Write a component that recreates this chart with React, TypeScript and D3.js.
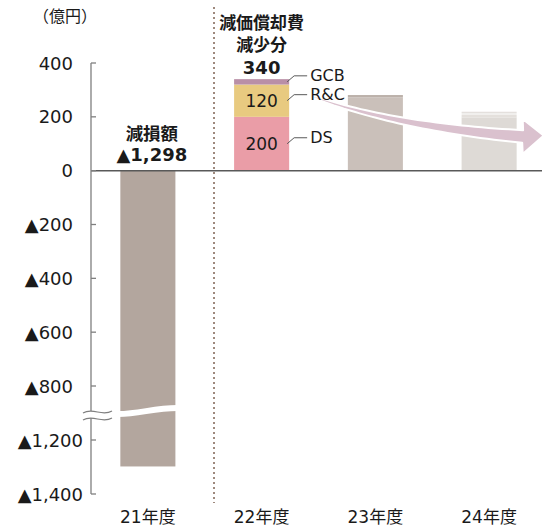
import React from "react";
import * as d3 from "d3";

// ---- data ----
const categories = ["21年度", "22年度", "23年度", "24年度"];
const impairmentValue = -1298; // 減損額
const segmentNames = ["DS", "R&C", "GCB"];
const segmentValues = [200, 120, 20];
const segmentColors = ["#EA9DA7", "#E8CA80", "#B98FA7"];
const fade23Values = [272, 9];
const fade23Colors = ["#CAC0BA", "#BCB1AA"];
const fade24Values = [198, 9, 7, 5];
const fade24Colors = ["#DEDAD6", "#E4E0DC", "#F1EFED", "#E4E0DD"];
const yTicks = [400, 200, 0, -200, -400, -600, -800, -1200, -1400];
const breakValue = -1000;
const arrowFrom = { cat: "22年度", value: 305 };
const arrowTo = { cat: "24年度", value: 127 };

const W = 542;
const H = 531;
const FONT = "'DejaVu Sans', Verdana, 'Noto Sans CJK JP', sans-serif";
const CJK = "'Noto Sans CJK JP', sans-serif";
const TXT = "#1a1a1a";

export default function App() {
  const x = d3.scalePoint<string>().domain(categories).range([91, 546]).padding(0.5);
  const step = x.step();
  const barW = step * 0.484;
  const y = d3
    .scaleLinear()
    .domain([400, -800, -1200, -1400])
    .range([63, 386, 440, 494]);
  const y0 = y(0);

  const fmt = (v: number) => (v < 0 ? "▲" + d3.format(",")(-v) : d3.format(",")(v));

  const stack = (cat: string, vals: number[], colors: string[]) => {
    const cum = d3.cumsum(vals);
    return vals.map((v, i) => {
      const top = cum[i];
      const bot = top - v;
      return (
        <rect
          key={cat + i}
          x={x(cat)! - barW / 2}
          y={y(top)}
          width={barW}
          height={y(bot) - y(top)}
          fill={colors[i]}
        />
      );
    });
  };

  const cum22 = Array.from(d3.cumsum(segmentValues));
  const total22 = d3.sum(segmentValues);
  const c22 = x("22年度")!;
  const c21 = x("21年度")!;

  // arrow geometry
  const sx = x(arrowFrom.cat)! + barW / 2 + 3;
  const sy = y(arrowFrom.value);
  const ex = x(arrowTo.cat)! + barW / 2 + 6;
  const ey = y(arrowTo.value);
  const cx = sx + 0.38 * (ex - sx);
  const cy = ey - 0.23 * (ey - sy);
  const N = 40;
  const upper: [number, number][] = [];
  const lower: [number, number][] = [];
  for (let i = 0; i <= N; i++) {
    const t = i / N;
    const px = (1 - t) * (1 - t) * sx + 2 * t * (1 - t) * cx + t * t * ex;
    const py = (1 - t) * (1 - t) * sy + 2 * t * (1 - t) * cy + t * t * ey;
    const dx = 2 * (1 - t) * (cx - sx) + 2 * t * (ex - cx);
    const dy = 2 * (1 - t) * (cy - sy) + 2 * t * (ey - cy);
    const len = Math.hypot(dx, dy);
    const nx = -dy / len;
    const ny = dx / len;
    const w = 1.2 + 11.5 * Math.pow(t, 1.2);
    upper.push([px - (nx * w) / 2, py - (ny * w) / 2]);
    lower.push([px + (nx * w) / 2, py + (ny * w) / 2]);
  }
  const headHalf = 17.5;
  const headLen = 21;
  const pts: [number, number][] = [
    ...upper,
    [ex, ey - headHalf],
    [ex + headLen, ey - 1],
    [ex, ey + headHalf],
    ...lower.slice().reverse(),
  ];
  const arrowPath = "M" + pts.map((p) => p[0].toFixed(1) + "," + p[1].toFixed(1)).join("L") + "Z";

  const yb = y(breakValue);
  const barL = c21 - barW / 2;
  const barR = c21 + barW / 2;

  return (
    <svg
      width={W}
      height={H}
      style={{ position: "absolute", left: 0, top: 0, background: "#fff" }}
      fontFamily={FONT}
    >
      {/* unit */}
      <text x={65} y={15} fontSize={16} fill={TXT} textAnchor="middle" dominantBaseline="central" fontFamily={CJK}>
        （億円）
      </text>

      {/* dotted separator */}
      <line x1={214} x2={214} y1={7} y2={503} stroke="#9E897D" strokeWidth={2} strokeDasharray="2 3" />

      {/* 21 bar */}
      <rect x={barL} y={y0} width={barW} height={y(impairmentValue) - y0} fill="#B3A69E" />
      <path
        d={`M${barL - 2},${yb + 1} C${barL + barW * 0.35},${yb + 1} ${barL + barW * 0.6},${yb - 5} ${barR + 2},${yb - 5}`}
        fill="none"
        stroke="#fff"
        strokeWidth={6}
      />

      {/* 22 stacked */}
      {segmentValues.map((v, i) => (
        <rect
          key={segmentNames[i]}
          x={c22 - barW / 2}
          y={y(cum22[i])}
          width={barW}
          height={y(cum22[i] - v) - y(cum22[i])}
          fill={segmentColors[i]}
        />
      ))}
      {/* 23, 24 */}
      {stack("23年度", fade23Values, fade23Colors)}
      {stack("24年度", fade24Values, fade24Colors)}

      {/* arrow */}
      <path d={arrowPath} fill="#DAC1CE" stroke="#fff" strokeWidth={2} strokeLinejoin="round" />

      {/* baseline */}
      <line x1={91} x2={W} y1={y0} y2={y0} stroke="#595959" strokeWidth={1.5} />

      {/* y axis */}
      <line x1={91} x2={91} y1={y(400)} y2={y(-1400)} stroke="#7F7F7F" strokeWidth={1.3} />
      {yTicks.map((t) => (
        <g key={t}>
          <line x1={91} x2={96} y1={y(t)} y2={y(t)} stroke="#7F7F7F" strokeWidth={1.3} />
          <text
            x={t < breakValue ? 83 : 73}
            y={y(t)}
            fontSize={18}
            fill={TXT}
            textAnchor="end"
            dominantBaseline="central"
          >
            {fmt(t)}
          </text>
        </g>
      ))}
      {/* axis break */}
      <path d={`M83,${yb} C93,${yb - 6} 102,${yb + 4} 112,${yb - 2} L112,${yb + 5} C102,${yb + 11} 93,${yb + 1} 83,${yb + 7} Z`} fill="#fff" />
      <path d={`M83,${yb} C93,${yb - 6} 102,${yb + 4} 112,${yb - 2}`} fill="none" stroke="#7F7F7F" strokeWidth={1.2} />
      <path d={`M83,${yb + 7} C93,${yb + 1} 102,${yb + 11} 112,${yb + 5}`} fill="none" stroke="#7F7F7F" strokeWidth={1.2} />

      {/* in-bar labels */}
      {segmentValues.map((v, i) =>
        v >= 100 ? (
          <text key={"l" + i} x={c22} y={y(cum22[i] - v / 2)} fontSize={17} fill={TXT} textAnchor="middle" dominantBaseline="central">
            {fmt(v)}
          </text>
        ) : null
      )}
      {/* legend leaders */}
      {segmentValues.map((v, i) => {
        const ay = y(cum22[i] - v / 2);
        const bx = c22 + barW / 2;
        return (
          <g key={"lg" + i}>
            <polyline
              points={`${bx - 2},${ay} ${bx + 5},${ay - 6} ${bx + 18},${ay - 6}`}
              fill="none"
              stroke="#595959"
              strokeWidth={1}
            />
            <text x={bx + 21} y={ay - 6} fontSize={16} fill={TXT} dominantBaseline="central">
              {segmentNames[i]}
            </text>
          </g>
        );
      })}

      {/* annotations */}
      <text x={c21 + 4} y={y0 - 38} fontSize={17.5} fontWeight="bold" fill={TXT} textAnchor="middle" dominantBaseline="central" fontFamily={CJK}>
        減損額
      </text>
      <text x={c21 + 4} y={y0 - 16} fontSize={18} fontWeight="bold" fill={TXT} textAnchor="middle" dominantBaseline="central">
        {fmt(impairmentValue)}
      </text>
      <text x={c22} y={21} fontSize={17} fontWeight="bold" fill={TXT} textAnchor="middle" dominantBaseline="central" fontFamily={CJK}>
        減価償却費
      </text>
      <text x={c22} y={43} fontSize={17} fontWeight="bold" fill={TXT} textAnchor="middle" dominantBaseline="central" fontFamily={CJK}>
        減少分
      </text>
      <text x={c22} y={y(total22) - 12} fontSize={18} fontWeight="bold" fill={TXT} textAnchor="middle" dominantBaseline="central">
        {fmt(total22)}
      </text>

      {/* category labels */}
      {categories.map((c) => (
        <text key={c} x={x(c)} y={517} fontSize={17} fill={TXT} textAnchor="middle" dominantBaseline="central">
          {c}
        </text>
      ))}
    </svg>
  );
}
